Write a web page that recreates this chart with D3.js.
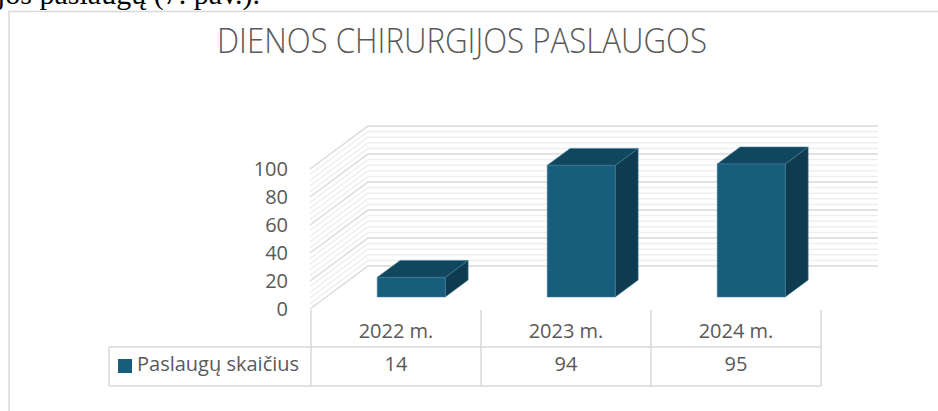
<!DOCTYPE html>
<html>
<head>
<meta charset="utf-8">
<script src="https://cdn.jsdelivr.net/npm/d3@7"></script>
<style>
  body { margin: 0; background: #fff; }
  svg { display: block; }
</style>
</head>
<body>
<div id="chart"></div>
<script>
// data
const categories = ["2022 m.", "2023 m.", "2024 m."];
const values = [14, 94, 95];
const seriesName = "Paslaugų skaičius";
const yTicks = [0, 20, 40, 60, 80, 100];
const chartTitle = "DIENOS CHIRURGIJOS PASLAUGOS";

const width = 938, height = 411;
const grey = "#595959", lineCol = "#d9d9d9";

// 3d box: front plane origin + depth vector
const x0 = 310, x1 = 820;
const floorY = 309;           // y of value 0 on front plane
const depthX = 58, depthY = -43;
const barD0 = 0.28, barD1 = 0.675;

let svg = d3.select("#chart").append("svg")
    .attr("width", width)
    .attr("height", height)

// text line above the chart (document body, cut by the page edge)
svg.append("text")
    .attr("x", -3).attr("y", 4)
    .style("font-family", "'Liberation Serif', 'Times New Roman', serif")
    .style("font-size", "30px")
    .attr("fill", "#000")
    .text("jos paslaugų (7. pav.).");

// chart frame
svg.append("rect")
    .attr("x", 9).attr("y", 11.5)
    .attr("width", 1000).attr("height", 500)
    .attr("fill", "none")
    .attr("stroke", lineCol)
    .attr("stroke-width", 1.5);

svg.append("text")
    .attr("x", 462).attr("y", 53)
    .attr("text-anchor", "middle")
    .attr("textLength", 490)
    .attr("lengthAdjust", "spacingAndGlyphs")
    .style("font-family", "'Open Sans', sans-serif")
    .style("font-weight", 300)
    .style("font-size", "35px")
    .attr("fill", grey)
    .text(chartTitle);

let y = d3.scaleLinear().domain([0, 100]).range([0, 140]);
let x = d3.scaleBand().domain(categories).range([x0, x1])
    .paddingInner(0.6).paddingOuter(0.3);

// project (screen x on front plane, value, depth 0..1)
function pt(px, v, d) {
    return [px + d * depthX, floorY - y(v) + d * depthY];
}

// walls: minor + major gridlines
const minor = d3.range(0, 101, 4).filter(v => !yTicks.includes(v));
const walls = svg.append("g");
function wallLine(v, col) {
    let a = pt(x0, v, 0), b = pt(x0, v, 1), c = pt(x1, v, 1);
    walls.append("polyline")
        .attr("points", [a, b, c].map(p => p.join(",")).join(" "))
        .attr("fill", "none")
        .attr("stroke", col)
        .attr("stroke-width", 1.3);
}
minor.forEach(v => wallLine(v, "#ededed"));
yTicks.forEach(v => wallLine(v, lineCol));

// y labels
svg.append("g").selectAll("text")
    .data(yTicks).enter().append("text")
    .attr("x", 288)
    .attr("y", d => floorY - y(d) + 2)
    .attr("text-anchor", "end")
    .attr("dominant-baseline", "middle")
    .style("font-family", "'Open Sans', sans-serif")
    .style("font-size", "20px")
    .attr("fill", grey)
    .text(d => d);

// bars
const bars = svg.append("g");
categories.forEach((c, i) => {
    let l = x(c), r = x(c) + x.bandwidth(), v = values[i];
    let poly = (pts, col) => bars.append("polygon")
        .attr("points", pts.map(p => p.join(",")).join(" "))
        .attr("fill", col)
        .attr("stroke", "#3f7d97")
        .attr("stroke-width", 0.6)
        .attr("stroke-linejoin", "round");
    // side
    poly([pt(r, 0, barD0), pt(r, 0, barD1), pt(r, v, barD1), pt(r, v, barD0)], "#0e3b50");
    // top
    poly([pt(l, v, barD0), pt(r, v, barD0), pt(r, v, barD1), pt(l, v, barD1)], "#11465f");
    // front
    poly([pt(l, 0, barD0), pt(r, 0, barD0), pt(r, v, barD0), pt(l, v, barD0)], "#165e7c");
});

// data table
const tbl = svg.append("g");
const rowTop = 310, rowMid = 347, rowBot = 386, legLeft = 109;
const colEdges = [x0 + 1].concat(categories.map((c, i) => x0 + x.step() * (i + 1) + 1));
function tline(xa, ya, xb, yb) {
    tbl.append("line")
        .attr("x1", xa).attr("y1", ya).attr("x2", xb).attr("y2", yb)
        .attr("stroke", lineCol).attr("stroke-width", 1.5);
}
colEdges.forEach(cx => tline(cx, rowTop, cx, rowBot));
tline(legLeft, rowMid, colEdges[3], rowMid);
tline(legLeft, rowBot, colEdges[3], rowBot);
tline(legLeft, rowMid, legLeft, rowBot);

tbl.selectAll("text.cat")
    .data(categories).enter().append("text")
    .attr("class", "cat")
    .attr("x", d => x(d) + x.bandwidth() / 2 + 1)
    .attr("y", 333)
    .attr("text-anchor", "middle")
    .attr("dominant-baseline", "middle")
    .style("font-family", "'Open Sans', sans-serif")
    .style("font-size", "20px")
    .attr("fill", grey)
    .text(d => d);

tbl.selectAll("text.val")
    .data(values).enter().append("text")
    .attr("class", "val")
    .attr("x", (d, i) => x(categories[i]) + x.bandwidth() / 2 + 1)
    .attr("y", 366)
    .attr("text-anchor", "middle")
    .attr("dominant-baseline", "middle")
    .style("font-family", "'Open Sans', sans-serif")
    .style("font-size", "20px")
    .attr("fill", grey)
    .text(d => d);

tbl.append("rect")
    .attr("x", 118).attr("y", 359)
    .attr("width", 14).attr("height", 14)
    .attr("fill", "#165e7c");
tbl.append("text")
    .attr("x", 137).attr("y", 366)
    .attr("dominant-baseline", "middle")
    .style("font-family", "'Open Sans', sans-serif")
    .style("font-size", "20px")
    .attr("fill", grey)
    .text(seriesName);
</script>
</body>
</html>
